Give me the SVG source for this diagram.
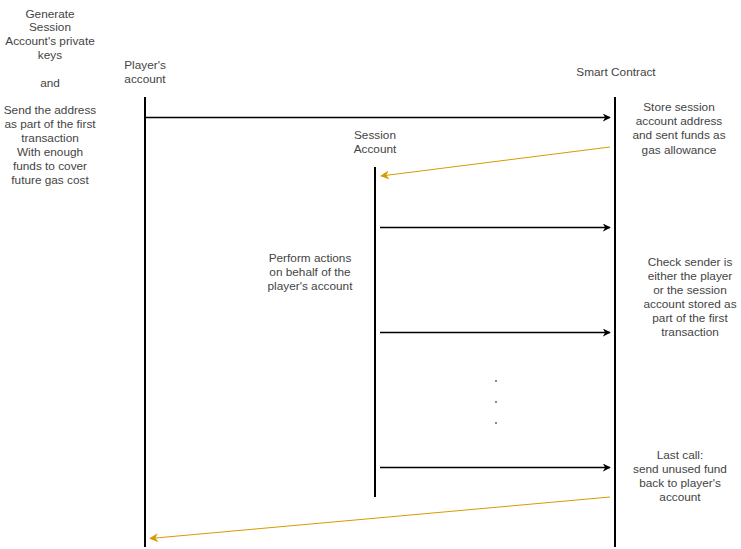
<svg xmlns="http://www.w3.org/2000/svg" width="741" height="549" viewBox="0 0 741 549">
<style>
text{font-family:"Liberation Sans",Arial,sans-serif;font-size:11.8px;fill:#444;text-anchor:middle}
.life{stroke:#000;stroke-width:2;fill:none}
.blk{stroke:#000;stroke-width:1.3;fill:none}
.org{stroke:#d79b00;stroke-width:1;fill:none}
</style>
<defs>
<marker id="ab" viewBox="0 0 10 10" refX="9" refY="5" markerWidth="8" markerHeight="8" markerUnits="userSpaceOnUse" orient="auto"><path d="M0,0 L10,5 L0,10 L3,5 Z" fill="#000"/></marker>
<marker id="ao" viewBox="0 0 10 10" refX="9" refY="5" markerWidth="9" markerHeight="9" markerUnits="userSpaceOnUse" orient="auto"><path d="M0,0 L10,5 L0,10 L3,5 Z" fill="#d79b00"/></marker>
</defs>
<g id="player">
<text x="145" y="69">Player's</text>
<text x="145" y="83">account</text>
<line class="life" x1="145" y1="97" x2="145" y2="547" stroke-width="1.5"/>
<line class="life" x1="145" y1="97" x2="145" y2="161"/>
</g>
<g id="session">
<text x="375" y="139">Session</text>
<text x="375" y="153">Account</text>
<line class="life" x1="375" y1="167" x2="375" y2="497"/>
</g>
<g id="contract">
<text x="616" y="76">Smart Contract</text>
<line class="life" x1="615" y1="97" x2="615" y2="547"/>
</g>
<g id="note-left">
<text x="50" y="18">Generate</text>
<text x="50" y="31">Session</text>
<text x="50" y="45">Account's private</text>
<text x="50" y="59">keys</text>
<text x="50" y="87">and</text>
<text x="50" y="114">Send the address</text>
<text x="50" y="128">as part of the first</text>
<text x="50" y="142">transaction</text>
<text x="50" y="156">With enough</text>
<text x="50" y="170">funds to cover</text>
<text x="50" y="184">future gas cost</text>
</g>
<g id="note-store">
<text x="679" y="111">Store session</text>
<text x="679" y="125">account address</text>
<text x="679" y="139">and sent funds as</text>
<text x="679" y="154">gas allowance</text>
</g>
<g id="note-perform">
<text x="310" y="262">Perform actions</text>
<text x="310" y="276">on behalf of the</text>
<text x="310" y="290">player's account</text>
</g>
<g id="note-check">
<text x="690" y="266">Check sender is</text>
<text x="690" y="280">either the player</text>
<text x="690" y="294">or the session</text>
<text x="690" y="308">account stored as</text>
<text x="690" y="322">part of the first</text>
<text x="690" y="336">transaction</text>
</g>
<g id="dots" fill="#888">
<rect x="495" y="380" width="2" height="2"/>
<rect x="495" y="401" width="2" height="2"/>
<rect x="495" y="422" width="2" height="2"/>
</g>
<g id="note-last">
<text x="680" y="459">Last call:</text>
<text x="680" y="473">send unused fund</text>
<text x="680" y="487">back to player's</text>
<text x="680" y="501">account</text>
</g>
<g id="connectors">
<line class="blk" x1="145" y1="117.5" x2="610" y2="117.5" marker-end="url(#ab)"/>
<line class="org" x1="610" y1="147" x2="381" y2="176" marker-end="url(#ao)"/>
<line class="blk" x1="380" y1="227.5" x2="610" y2="227.5" marker-end="url(#ab)"/>
<line class="blk" x1="380" y1="332.5" x2="610" y2="332.5" marker-end="url(#ab)"/>
<line class="blk" x1="380" y1="467.5" x2="610" y2="467.5" marker-end="url(#ab)"/>
<line class="org" x1="610" y1="497" x2="150" y2="538.5" marker-end="url(#ao)"/>
</g>
</svg>
